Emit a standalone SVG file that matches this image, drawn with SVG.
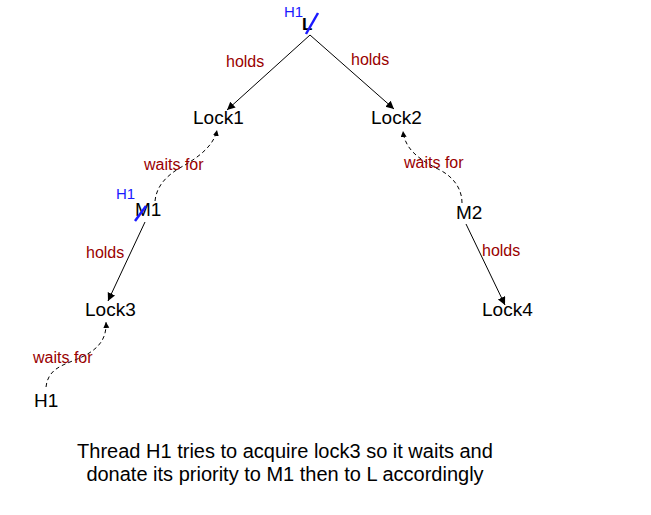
<svg xmlns="http://www.w3.org/2000/svg" width="651" height="515" viewBox="0 0 651 515">
<style>
text{font-family:"Liberation Sans",Arial,sans-serif}
.n{font-size:19px;fill:#000}
.lbl{font-size:16px;fill:#990000}
.h{font-size:15px;fill:#1a1aff}
.cap{font-size:20px;fill:#000;text-anchor:middle}
.e{fill:none;stroke:#000;stroke-width:1}
.d{fill:none;stroke:#000;stroke-width:1;stroke-dasharray:4 3}
.x{stroke:#1a1aff;stroke-width:2.5;fill:none}
</style>
<defs>
<marker id="a" markerWidth="10" markerHeight="10" refX="8" refY="4" orient="auto" markerUnits="userSpaceOnUse">
<path d="M0,0 L8,4 L0,8 Z" fill="#000"/>
</marker>
<marker id="s" markerWidth="8" markerHeight="8" refX="6" refY="3" orient="auto" markerUnits="userSpaceOnUse">
<path d="M0,0 L6,3 L0,6 Z" fill="#000"/>
</marker>
</defs>
<g id="connectors">
<line class="e" x1="310" y1="35" x2="227" y2="110" marker-end="url(#a)"/>
<line class="e" x1="310" y1="35" x2="394" y2="109" marker-end="url(#a)"/>
<line class="e" x1="145" y1="222" x2="108" y2="301" marker-end="url(#a)"/>
<line class="e" x1="466" y1="224" x2="505" y2="305" marker-end="url(#a)"/>
<path class="d" d="M155,201 C157,182 172,172 185,165 C200,156 214,145 217,130" marker-end="url(#s)"/>
<path class="d" d="M462,203 C462,190 455,178 440,170 C420,160 405,150 403,131" marker-end="url(#s)"/>
<path class="d" d="M46,387 C48,370 60,366 75,360 C95,352 107,342 106,322" marker-end="url(#s)"/>
<text class="lbl" x="226" y="67">holds</text>
<text class="lbl" x="351" y="65">holds</text>
<text class="lbl" x="144" y="170">waits for</text>
<text class="lbl" x="404" y="168">waits for</text>
<text class="lbl" x="86" y="258">holds</text>
<text class="lbl" x="482" y="256">holds</text>
<text class="lbl" x="33" y="363">waits for</text>
</g>
<g id="L">
<text x="284" y="17" class="h">H1</text>
<text x="302" y="30" style="font-size:17px;font-weight:bold;fill:#000">L</text>
<line class="x" x1="306" y1="34" x2="318" y2="13"/>
</g>
<g id="Lock1"><text class="n" x="193" y="124">Lock1</text></g>
<g id="Lock2"><text class="n" x="371" y="124">Lock2</text></g>
<g id="M1">
<text x="116" y="199" class="h">H1</text>
<text class="n" x="135" y="216">M1</text>
<line class="x" x1="135" y1="221" x2="146" y2="206"/>
</g>
<g id="M2"><text class="n" x="456" y="219">M2</text></g>
<g id="Lock3"><text class="n" x="85" y="316">Lock3</text></g>
<g id="Lock4"><text class="n" x="482" y="316">Lock4</text></g>
<g id="H1"><text class="n" x="34" y="407">H1</text></g>
<g id="caption">
<text class="cap" x="285" y="458">Thread H1 tries to acquire lock3 so it waits and</text>
<text class="cap" x="285" y="481">donate its priority to M1 then to L accordingly</text>
</g>
</svg>
